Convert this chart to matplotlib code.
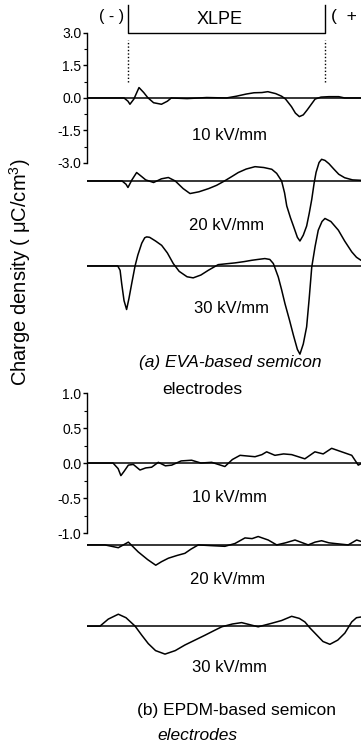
import numpy as np
import matplotlib
matplotlib.use("Agg")
import matplotlib.pyplot as plt
from matplotlib.ticker import FixedLocator

plt.rcParams['font.family'] = ['Liberation Sans', 'DejaVu Sans']
plt.rcParams['mathtext.fontset'] = 'custom'
plt.rcParams['mathtext.rm'] = 'Liberation Sans'

# ----------------------------
# Data (position normalised: XLPE from 0 to 1, charge in uC/cm^3)
# ----------------------------
# (a) EVA-based semicon electrodes
a10_x = [-0.21, -0.02, 0.00, 0.01, 0.03, 0.056, 0.08, 0.10, 0.13, 0.17, 0.20, 0.22, 0.30, 0.40, 0.50,
         0.55, 0.60, 0.64, 0.68, 0.71, 0.75, 0.78, 0.80, 0.83, 0.85, 0.87, 0.89, 0.91, 0.95, 0.98, 1.02,
         1.07, 1.10, 1.25]
a10_y = [0, 0, -0.15, -0.29, -0.05, 0.48, 0.25, 0.02, -0.22, -0.29, -0.15, 0, -0.03, 0.02, 0,
         0.08, 0.18, 0.24, 0.25, 0.29, 0.20, 0.08, -0.05, -0.40, -0.70, -0.86, -0.78, -0.55, -0.05, 0.04,
         0.06, 0.06, 0, 0]

a20_x = [-0.21, -0.03, -0.01, 0.00, 0.02, 0.044, 0.07, 0.09, 0.13, 0.17, 0.205, 0.24, 0.28, 0.315, 0.36,
         0.41, 0.45, 0.49, 0.53, 0.56, 0.60, 0.645, 0.69, 0.73, 0.755, 0.78, 0.795, 0.806, 0.825, 0.84,
         0.86, 0.873, 0.89, 0.907, 0.92, 0.933, 0.945, 0.955, 0.97, 0.983, 1.00, 1.02, 1.045, 1.07, 1.10,
         1.14, 1.25]
a20_y = [0, 0, -0.15, -0.30, 0.05, 0.39, 0.20, 0.05, -0.07, 0.10, 0.16, 0.0, -0.35, -0.58, -0.50,
         -0.35, -0.20, 0.0, 0.22, 0.39, 0.55, 0.66, 0.62, 0.54, 0.35, 0.0, -0.55, -1.15, -1.70, -2.08,
         -2.60, -2.77, -2.50, -2.08, -1.50, -0.85, -0.10, 0.40, 0.85, 1.00, 0.95, 0.80, 0.55, 0.31, 0.15,
         0.05, 0]

a30_x = [-0.21, -0.052, -0.04, -0.032, -0.02, -0.007, 0.005, 0.019, 0.036, 0.05, 0.07, 0.085, 0.095,
         0.11, 0.14, 0.171, 0.20, 0.23, 0.26, 0.30, 0.331, 0.37, 0.408, 0.458, 0.50, 0.543, 0.59, 0.628,
         0.66, 0.695, 0.72, 0.738, 0.763, 0.78, 0.797, 0.82, 0.84, 0.86, 0.873, 0.89, 0.907, 0.92, 0.933,
         0.95, 0.966, 0.985, 1.0, 1.03, 1.068, 1.10, 1.136, 1.16, 1.183, 1.25]
a30_y = [0, 0, -0.20, -0.81, -1.60, -2.01, -1.50, -0.81, 0, 0.50, 1.05, 1.30, 1.34,
         1.32, 1.15, 0.95, 0.60, 0.11, -0.25, -0.50, -0.55, -0.42, -0.20, 0.06, 0.10, 0.14, 0.20, 0.26,
         0.30, 0.34, 0.30, 0.11, -0.51, -1.10, -1.74, -2.50, -3.20, -3.85, -4.07, -3.60, -2.81, -1.50, -0.05,
         0.90, 1.65, 2.05, 2.19, 2.05, 1.65, 1.15, 0.65, 0.40, 0.26, 0.10]

# (b) EPDM-based semicon electrodes
b10_x = [-0.21, -0.076, -0.05, -0.036, -0.02, 0.002, 0.027, 0.061, 0.09, 0.120, 0.154, 0.19, 0.222,
         0.27, 0.323, 0.37, 0.425, 0.492, 0.53, 0.569, 0.645, 0.68, 0.704, 0.746, 0.79, 0.831, 0.898,
         0.949, 0.991, 1.034, 1.085, 1.136, 1.169, 1.183, 1.25]
b10_y = [0, 0, -0.08, -0.18, -0.12, -0.03, -0.02, -0.10, -0.07, -0.06, 0.01, -0.04, -0.03,
         0.03, 0.04, 0.0, 0.01, -0.05, 0.05, 0.11, 0.09, 0.12, 0.16, 0.11, 0.13, 0.12, 0.06,
         0.16, 0.13, 0.21, 0.16, 0.11, -0.03, -0.01, 0]

b20_x = [-0.21, -0.117, -0.049, 0.002, 0.052, 0.10, 0.141, 0.17, 0.205, 0.25, 0.289, 0.32, 0.357,
         0.42, 0.492, 0.543, 0.594, 0.63, 0.661, 0.712, 0.755, 0.80, 0.848, 0.915, 0.95, 0.983, 1.02,
         1.051, 1.118, 1.161, 1.183, 1.25]
b20_y = [0, 0, -0.04, 0.04, -0.10, -0.21, -0.29, -0.24, -0.19, -0.15, -0.12, -0.06, 0,
         -0.01, -0.02, 0.02, 0.10, 0.09, 0.12, 0.07, 0, 0.03, 0.07, 0, 0.04, 0.06, 0.03,
         0.02, 0, 0.07, 0.05, 0.05]

b30_x = [-0.21, -0.142, -0.10, -0.049, -0.01, 0.036, 0.07, 0.103, 0.14, 0.188, 0.24, 0.289, 0.34,
         0.391, 0.44, 0.476, 0.53, 0.577, 0.661, 0.729, 0.780, 0.831, 0.87, 0.898, 0.925, 0.949, 0.99,
         1.025, 1.065, 1.101, 1.136, 1.16, 1.183, 1.25]
b30_y = [0, 0, 0.10, 0.17, 0.12, 0, -0.13, -0.25, -0.35, -0.40, -0.35, -0.27, -0.20,
         -0.13, -0.06, -0.01, 0.03, 0.05, -0.01, 0.04, 0.08, 0.14, 0.11, 0.06, -0.03, -0.10, -0.22,
         -0.26, -0.20, -0.10, 0.06, 0.12, 0.13, 0.20]

offsets_a = [0.0, -3.83, -7.75]
offsets_b = [0.0, -1.17, -2.33]
field_labels = ["10 kV/mm", "20 kV/mm", "30 kV/mm"]

W, H = 361, 743
fig = plt.figure(figsize=(W / 100, H / 100), dpi=100)


def px(x, y):
    # pixel position -> figure fraction
    return x / W, 1 - y / H


ax_a = fig.add_axes([87 / W, 1 - 360 / H, (W - 87) / W, 360 / H])
ax_b = fig.add_axes([87 / W, 0, (W - 87) / W, 373 / H])

ax_a.set_ylim(-12.09, 4.52)
ax_b.set_ylim(-4.0, 1.329)
for ax in (ax_a, ax_b):
    ax.set_xlim(-0.208, 1.183)
    ax.patch.set_visible(False)
    for s in ("top", "right", "bottom"):
        ax.spines[s].set_visible(False)
    ax.spines["left"].set_linewidth(1.0)
    ax.set_xticks([])
    ax.tick_params(axis="y", direction="out", length=3, width=1.0, labelsize=10, pad=1)
    ax.tick_params(axis="y", which="minor", direction="out", length=2, width=0.8)

ax_a.spines["left"].set_bounds(-3, 3)
ax_a.set_yticks([3.0, 1.5, 0.0, -1.5, -3.0])
ax_a.set_yticklabels(["3.0", "1.5", "0.0", "-1.5", "-3.0"])
ax_a.yaxis.set_minor_locator(FixedLocator(np.arange(-3, 3.01, 0.75)))
ax_b.spines["left"].set_bounds(-1, 1)
ax_b.set_yticks([1.0, 0.5, 0.0, -0.5, -1.0])
ax_b.set_yticklabels(["1.0", "0.5", "0.0", "-0.5", "-1.0"])
ax_b.yaxis.set_minor_locator(FixedLocator(np.arange(-1, 1.01, 0.25)))

traces_a = [(a10_x, a10_y), (a20_x, a20_y), (a30_x, a30_y)]
traces_b = [(b10_x, b10_y), (b20_x, b20_y), (b30_x, b30_y)]

for ax, traces, offs in ((ax_a, traces_a, offsets_a), (ax_b, traces_b, offsets_b)):
    for (x, y), off in zip(traces, offs):
        ax.axhline(off, color="black", lw=1.1)
        ax.plot(x, np.array(y) + off, color="black", lw=1.1)

# XLPE bracket and electrode markers
ax_a.plot([0, 0, 1, 1], [4.29, 3.0, 3.0, 4.29], color="black", lw=1.0, clip_on=False)
ax_a.plot([0, 0], [0.74, 2.68], color="black", lw=1.0, ls=(0, (1, 1.5)))
ax_a.plot([1, 1], [0.74, 2.68], color="black", lw=1.0, ls=(0, (1, 1.5)))

fig.text(*px(112, 17), "( - )", ha="center", va="center", fontsize=11.5)
fig.text(*px(220, 20), "XLPE", ha="center", va="center", fontsize=13)
fig.text(*px(331, 17), "(  + )", ha="left", va="center", fontsize=12.5)

# field labels
fig.text(*px(229, 136), field_labels[0], ha="center", va="center", fontsize=12)
fig.text(*px(227, 225), field_labels[1], ha="center", va="center", fontsize=12)
fig.text(*px(231, 308), field_labels[2], ha="center", va="center", fontsize=12)
fig.text(*px(229, 497), field_labels[0], ha="center", va="center", fontsize=12)
fig.text(*px(228, 579), field_labels[1], ha="center", va="center", fontsize=12)
fig.text(*px(229, 668), field_labels[2], ha="center", va="center", fontsize=12)

fig.text(*px(230, 363), "(a) EVA-based semicon", ha="center", va="center", fontsize=12.5, style="italic")
fig.text(*px(202, 390), "electrodes", ha="center", va="center", fontsize=12.5)
fig.text(*px(237, 710), "(b) EPDM-based semicon", ha="center", va="center", fontsize=12.5)
fig.text(*px(197, 735), "electrodes", ha="center", va="center", fontsize=12.5, style="italic")

fig.text(*px(20, 272), "Charge density ( \u03bcC/cm$^{3}$)", rotation=90,
         ha="center", va="center", fontsize=14.5)

fig.savefig("out.png", dpi=100)
